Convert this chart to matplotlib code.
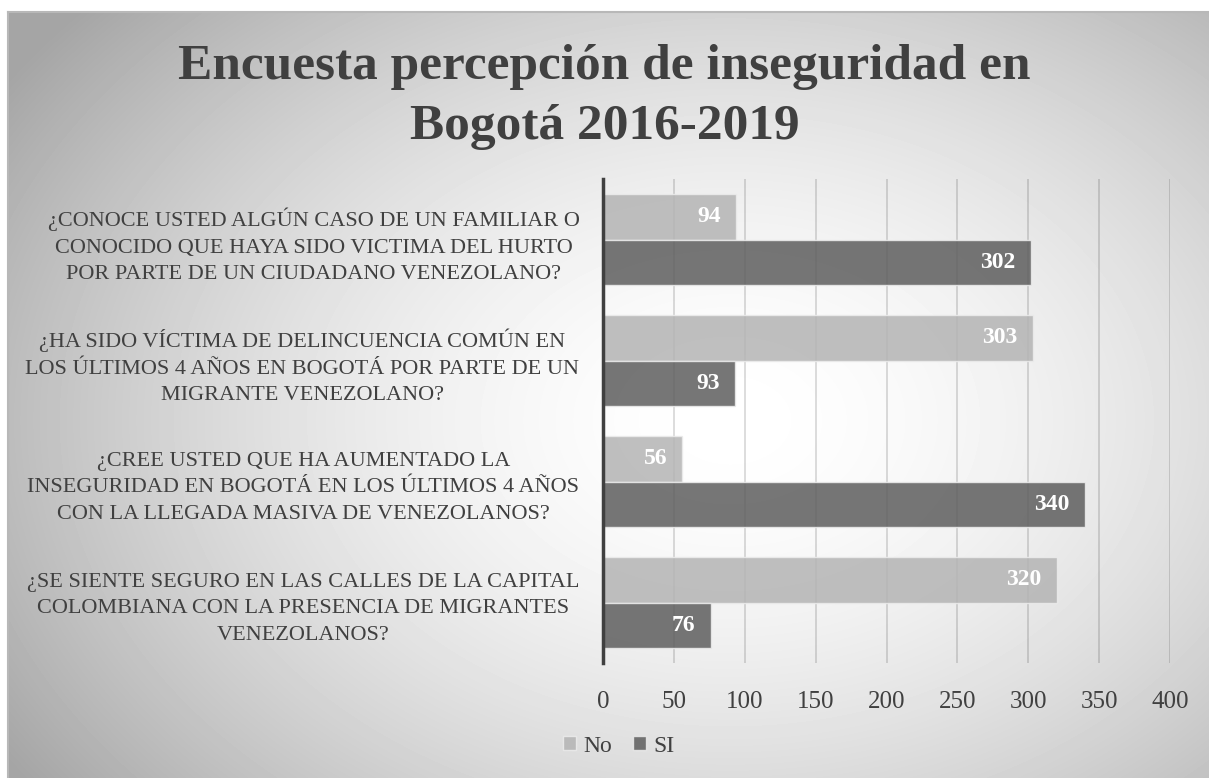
import numpy as np
import matplotlib.pyplot as plt

# Survey data
preguntas = [
    "¿CONOCE USTED ALGÚN CASO DE UN FAMILIAR O\nCONOCIDO QUE HAYA SIDO VICTIMA DEL HURTO\nPOR PARTE DE UN CIUDADANO VENEZOLANO?",
    "¿HA SIDO VÍCTIMA DE DELINCUENCIA COMÚN EN\nLOS ÚLTIMOS 4 AÑOS EN BOGOTÁ POR PARTE DE UN\nMIGRANTE VENEZOLANO?",
    "¿CREE USTED QUE HA AUMENTADO LA\nINSEGURIDAD EN BOGOTÁ EN LOS ÚLTIMOS 4 AÑOS\nCON LA LLEGADA MASIVA DE VENEZOLANOS?",
    "¿SE SIENTE SEGURO EN LAS CALLES DE LA CAPITAL\nCOLOMBIANA CON LA PRESENCIA DE MIGRANTES\nVENEZOLANOS?",
]
no_vals = [94, 303, 56, 320]
si_vals = [302, 93, 340, 76]
xticks = [0, 50, 100, 150, 200, 250, 300, 350, 400]

plt.rcParams['font.family'] = ['Liberation Serif', 'DejaVu Serif']

W, H = 1209, 778
fig = plt.figure(figsize=(W / 100, H / 100), dpi=100)

# radial gradient background with a thin frame
bg = fig.add_axes([0, 0, 1, 1], zorder=-10)
yy, xx = np.mgrid[0:H, 0:W]
d = np.sqrt(((xx - 730) / 720.0) ** 2 + ((yy - 420) / 520.0) ** 2)
img = 1.0 - 0.26 * np.clip(d, 0, 1.2) ** 1.7
img = np.clip(img, 0, 1)
img[:12, :] = 1.0
img[:, :8] = 1.0
bg.imshow(img, cmap='gray', vmin=0, vmax=1, extent=[0, W, H, 0], aspect='auto')
bg.plot([8, W], [12, 12], color='#b8b8b8', lw=1.5)
bg.plot([8, 8], [12, H], color='#b8b8b8', lw=1.5)
bg.set_xlim(0, W)
bg.set_ylim(H, 0)
bg.axis('off')

ax = fig.add_axes([603 / W, 1 - 663 / H, (1170 - 603) / W, (663 - 179) / H])
ax.patch.set_alpha(0)

n = len(preguntas)
pos = np.arange(n)[::-1]
h = 0.375
b_no = ax.barh(pos + h / 2, no_vals, height=h, color='#b4b4b4', edgecolor='#ececec',
               lw=1, label='No', zorder=2, alpha=0.85)
b_si = ax.barh(pos - h / 2, si_vals, height=h, color='#5e5e5e', edgecolor='#ececec',
               lw=1, label='SI', zorder=2, alpha=0.85)

# value labels inside the bar ends
for yv, vals in ((pos + h / 2, no_vals), (pos - h / 2, si_vals)):
    for y, v in zip(yv, vals):
        ax.annotate(str(v), (v, y), xytext=(-11, 0), textcoords='offset points',
                    ha='right', va='center', color='white', fontweight='bold',
                    fontsize=17, zorder=3)

ax.set_xlim(0, 400)
ax.set_ylim(-0.5, n - 0.5)
ax.set_xticks(xticks)
ax.set_xticklabels([str(t) for t in xticks])
ax.tick_params(axis='x', length=0, pad=20, labelsize=18, labelcolor='#404040')
ax.set_yticks(pos)
ax.set_yticklabels(preguntas, fontsize=16, color='#404040', multialignment='center',
                   linespacing=1.55)
ax.tick_params(axis='y', length=0, pad=17)
ax.grid(axis='x', color='black', alpha=0.15, lw=1.3, zorder=1)
ax.set_axisbelow(True)
for s in ['top', 'right', 'bottom']:
    ax.spines[s].set_visible(False)
ax.spines['left'].set_color('#404040')
ax.spines['left'].set_linewidth(2.5)
ax.spines['left'].set_zorder(4)

fig.text(0.5, 1 - 79 / H, "Encuesta percepción de inseguridad en", ha='center', va='baseline',
         fontsize=37, fontweight='bold', color='#404040')
fig.text(0.5, 1 - 139 / H, "Bogotá 2016-2019", ha='center', va='baseline',
         fontsize=37, fontweight='bold', color='#404040')

fig.legend(handles=[b_no, b_si], labels=['No', 'SI'], loc='center',
           bbox_to_anchor=(619 / W, 1 - 746 / H), ncol=2, frameon=False,
           fontsize=17, handlelength=0.55, handleheight=0.55, handletextpad=0.3,
           columnspacing=0.9, labelcolor='#404040')

fig.savefig('out.png', dpi=100)
